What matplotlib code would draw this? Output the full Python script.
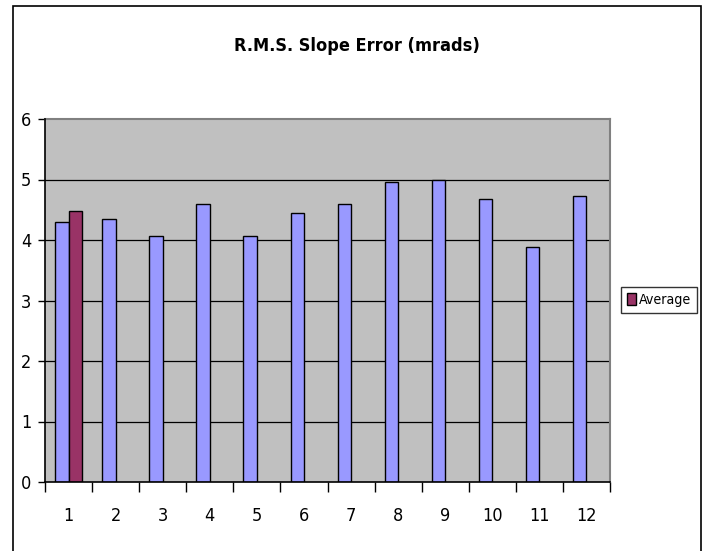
import numpy as np
import matplotlib
matplotlib.use("Agg")
import matplotlib.pyplot as plt
from matplotlib import font_manager
from matplotlib.font_manager import FontProperties
from matplotlib.patches import Rectangle

categories = ["1", "2", "3", "4", "5", "6", "7", "8", "9", "10", "11", "12"]
rms_values = [4.30, 4.34, 4.065, 4.60, 4.065, 4.45, 4.60, 4.96, 5.00, 4.67, 3.89, 4.72]
average_values = [4.48, None, None, None, None, None, None, None, None, None, None, None]
y_ticks = [0, 1, 2, 3, 4, 5, 6]

# look for a condensed / narrow sans face (Arial Narrow look)
def _w(f):
    wt = f.weight
    if isinstance(wt, str):
        return {"normal": 400, "regular": 400, "bold": 700}.get(wt, 400)
    return int(wt)

cands = [f for f in font_manager.fontManager.ttflist
         if f.style == "normal" and ("Narrow" in f.name or "Condensed" in f.name
                                      or str(f.stretch) in ("condensed", "semi-condensed", "extra-condensed"))
         and "Mono" not in f.name and "Serif" not in f.name]
reg = [f for f in cands if _w(f) == 400]
bold = [f for f in cands if _w(f) == 700]

if reg:
    fp_reg = lambda s: FontProperties(fname=reg[0].fname, size=s)
    fp_bold = (lambda s: FontProperties(fname=bold[0].fname, size=s)) if bold else \
        (lambda s: FontProperties(fname=reg[0].fname, size=s, weight="bold"))
    tick_fs, title_fs, leg_fs = 13, 13, 10.2
else:
    fp_reg = lambda s: FontProperties(family="Liberation Sans", size=s)
    fp_bold = lambda s: FontProperties(family="Liberation Sans", size=s, weight="bold")
    tick_fs, title_fs, leg_fs = 12.5, 12, 10

fig = plt.figure(figsize=(7.05, 5.51), dpi=100)
W, H = 705, 551
ax = fig.add_axes([45 / W, 1 - 482 / H, (610 - 45) / W, (482 - 119) / H])

x = np.arange(len(categories))
w = 1 / 3.5
avg = np.array([np.nan if v is None else v for v in average_values], dtype=float)

ax.set_facecolor("#C0C0C0")
ax.bar(x - w / 2, rms_values, w, color="#9999FF", edgecolor="black", linewidth=1, zorder=3)
ax.bar(x + w / 2, avg, w, color="#993366", edgecolor="black", linewidth=1, zorder=3,
       label="Average")

ax.set_xlim(-0.5, len(categories) - 0.5)
ax.set_ylim(0, 6)
ax.set_yticks(y_ticks)
ax.set_yticklabels([str(t) for t in y_ticks])
ax.set_xticks(x)
ax.set_xticklabels(categories)
for lab in ax.get_xticklabels() + ax.get_yticklabels():
    lab.set_fontproperties(fp_reg(tick_fs))
ax.tick_params(axis="x", which="major", length=0, pad=18)
ax.set_xticks(np.arange(-0.5, len(categories)), minor=True)
ax.tick_params(axis="x", which="minor", length=7, width=1, color="black", direction="out")
ax.tick_params(axis="y", length=5, width=1, direction="out", pad=5)

for t in y_ticks[1:-1]:
    ax.axhline(t, color="black", linewidth=0.9, zorder=1)

for s in ["left", "bottom"]:
    ax.spines[s].set_color("black")
    ax.spines[s].set_linewidth(1.2)
    ax.spines[s].set_zorder(4)
for s in ["top", "right"]:
    ax.spines[s].set_color("#808080")
    ax.spines[s].set_linewidth(1.5)

fig.text(357 / W, 1 - 46 / H, "R.M.S. Slope Error (mrads)", ha="center", va="center",
         fontproperties=fp_bold(title_fs))

leg = fig.legend(loc="center left", bbox_to_anchor=(621 / W, 1 - 300 / H), prop=fp_reg(leg_fs),
                 frameon=True, fancybox=False, edgecolor="black", borderpad=0.45,
                 handlelength=0.6, handleheight=0.9, handletextpad=0.2, borderaxespad=0)
leg.get_frame().set_linewidth(1)

# chart area border
fig.add_artist(Rectangle((12.5 / W, -0.01), (700.5 - 12.5) / W, 1 - 6 / H + 0.01,
                         transform=fig.transFigure, fill=False, edgecolor="black",
                         linewidth=1.2))

fig.savefig("out.png", dpi=100)
